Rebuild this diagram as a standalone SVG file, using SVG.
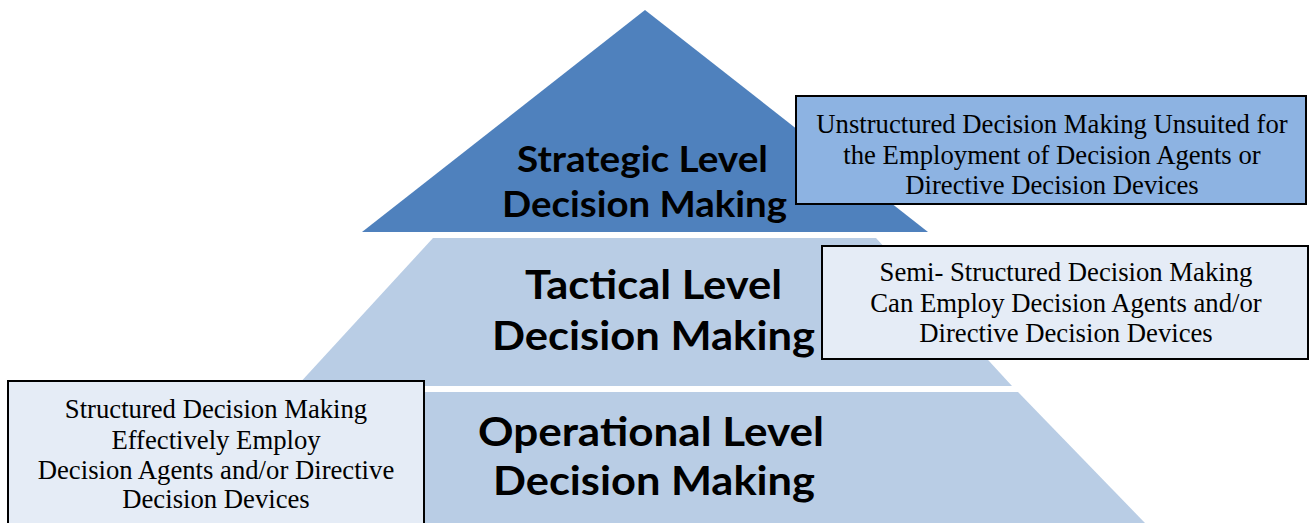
<svg xmlns="http://www.w3.org/2000/svg" width="1310" height="523" viewBox="0 0 1310 523">
  <style>
    .tier-top { fill: #4F81BD; }
    .tier-low { fill: #B9CDE5; }
    .tier-label { font-family: Lato, "Open Sans", "DejaVu Sans", sans-serif; font-weight: 700; fill: #000; text-anchor: start; }
    .note-box { stroke: #000; stroke-width: 2; }
    .note-dark { fill: #8DB3E2; }
    .note-light { fill: #E5ECF6; }
    .note-text { font-family: "Liberation Serif", "Times New Roman", serif; font-size: 26.7px; fill: #000; text-anchor: middle; }
  </style>
  <rect width="1310" height="523" fill="#FFFFFF"/>

  <!-- pyramid tiers -->
  <g id="level-strategic">
    <polygon class="tier-top" points="645,10 928,232 362,232"/>
    <text class="tier-label" x="517" y="172" font-size="37" textLength="251" lengthAdjust="spacingAndGlyphs">Strategic Level</text>
    <text class="tier-label" x="502" y="217" font-size="37" textLength="285" lengthAdjust="spacingAndGlyphs">Decision Making</text>
  </g>
  <g id="level-tactical">
    <polygon class="tier-low" points="433,238 876,238 1012,386 297,386"/>
    <text class="tier-label" x="525" y="299" font-size="41" textLength="257" lengthAdjust="spacingAndGlyphs">Tactical Level</text>
    <text class="tier-label" x="492" y="350" font-size="41" textLength="323" lengthAdjust="spacingAndGlyphs">Decision Making</text>
  </g>
  <g id="level-operational">
    <polygon class="tier-low" points="291,392 1018,392 1145,523 164,523"/>
    <text class="tier-label" x="478" y="446" font-size="41" textLength="346" lengthAdjust="spacingAndGlyphs">Operational Level</text>
    <text class="tier-label" x="493" y="495" font-size="41" textLength="322" lengthAdjust="spacingAndGlyphs">Decision Making</text>
  </g>

  <!-- side notes -->
  <g id="note-unstructured">
    <rect class="note-box note-dark" x="796" y="96" width="510" height="108"/>
    <text class="note-text" x="1052" y="133">Unstructured Decision Making Unsuited for</text>
    <text class="note-text" x="1052" y="164">the Employment of Decision Agents or</text>
    <text class="note-text" x="1052" y="194">Directive Decision Devices</text>
  </g>
  <g id="note-semi-structured">
    <rect class="note-box note-light" x="822" y="246" width="486" height="113"/>
    <text class="note-text" x="1066" y="281">Semi- Structured Decision Making</text>
    <text class="note-text" x="1066" y="312">Can Employ Decision Agents and/or</text>
    <text class="note-text" x="1066" y="342">Directive Decision Devices</text>
  </g>
  <g id="note-structured">
    <rect class="note-box note-light" x="8" y="381" width="416" height="150"/>
    <text class="note-text" x="216" y="418">Structured Decision Making</text>
    <text class="note-text" x="216" y="449">Effectively Employ</text>
    <text class="note-text" x="216" y="479">Decision Agents and/or Directive</text>
    <text class="note-text" x="216" y="508">Decision Devices</text>
  </g>

  <g id="connectors"/>
</svg>
